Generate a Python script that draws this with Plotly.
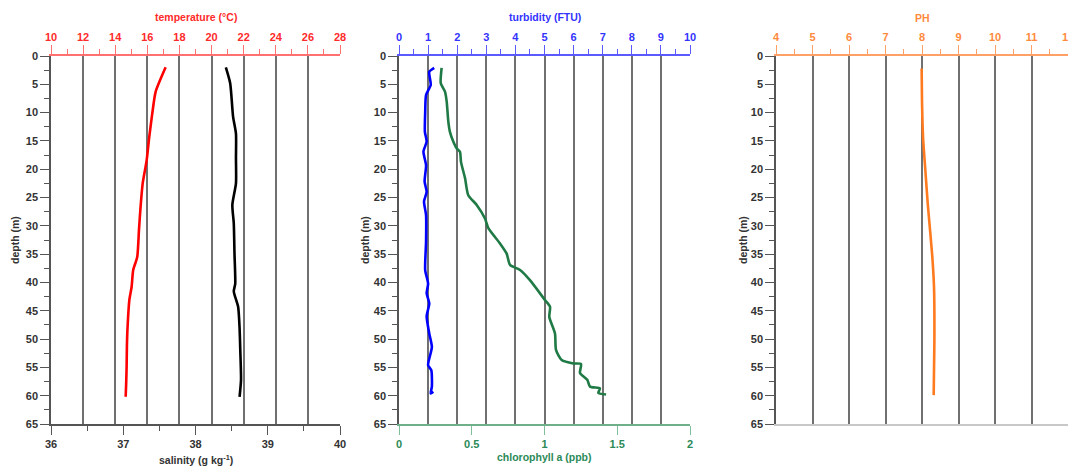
import plotly.graph_objects as go

# ---- profile data ----
temp_depth = [2, 6.3, 10.1, 14.3, 18.4, 22.5, 26.6, 30.7, 35.5, 37.8, 40.8, 43.1, 47.8, 51, 54.9, 58, 60.2]
temperature = [17.14, 16.52, 16.31, 16.12, 15.96, 15.71, 15.58, 15.48, 15.37, 15.12, 15.02, 14.88, 14.77, 14.73, 14.71, 14.68, 14.65]

sal_depth = [2, 4.8, 10.7, 13.7, 18, 22.5, 26.3, 29.6, 35, 40.2, 41.6, 44.3, 48, 52, 57.2, 60.2]
salinity = [38.42, 38.48, 38.52, 38.56, 38.56, 38.56, 38.51, 38.53, 38.54, 38.55, 38.53, 38.59, 38.61, 38.62, 38.63, 38.61]

turb_depth = [2.1, 2.8, 5.1, 6.9, 10, 13.4, 15.1, 16.9, 19.3, 22.2, 24, 25.7, 28.1, 32.8, 37.8, 40.2, 41.9,
              43.7, 46, 49, 51.4, 54.6, 55.5, 58.4, 59.6, 59.3]
turbidity = [1.21, 1.04, 1.09, 0.93, 0.9, 0.89, 0.95, 0.84, 0.93, 0.88, 0.95, 0.86, 0.93, 0.93, 0.9, 1.0, 0.95,
             1.04, 0.95, 1.04, 1.13, 1.0, 1.11, 1.13, 1.09, 1.18]

chl_depth = [2.1, 4.8, 6.3, 8.1, 11.6, 13.4, 15.1, 16.3, 16.9, 18.7, 21.6, 24.6, 26.3, 28.7, 30.4, 33.1, 34.9,
             36.9, 37.8, 39.6, 43.1, 44.3, 46.1, 49, 51.9, 53.7, 54.3, 54.4, 56, 57.2, 58.4, 58.7, 59.5, 59.8]
chlorophyll = [0.293, 0.287, 0.316, 0.328, 0.339, 0.35, 0.373, 0.396, 0.419, 0.426, 0.454, 0.476, 0.534, 0.591,
               0.614, 0.694, 0.74, 0.763, 0.832, 0.9, 1.003, 1.038, 1.033, 1.072, 1.079, 1.118, 1.198, 1.251,
               1.244, 1.294, 1.313, 1.381, 1.37, 1.423]

ph_depth = [2.2, 8, 14.5, 20, 26.3, 35.2, 41, 49.9, 55, 59.9]
ph = [7.99, 8.0, 8.03, 8.09, 8.16, 8.28, 8.33, 8.34, 8.33, 8.32]

W, H = 1068, 466
FONT = "Liberation Sans, Arial, sans-serif"
TXT = "#333333"
GRID = "#707070"
AX = "#555555"

RED, RED_L = "#ff2a2a", "#ff7070"
BLUE, BLUE_L = "#3333ff", "#5a5aff"
GREEN = "#2b8a57"
ORANGE, ORANGE_L = "#ff8a3d", "#ffa066"


def px_x(p):
    return p / W


def px_y(p):
    return 1 - p / H


y_dom = [px_y(424), px_y(56)]
panels = [[px_x(51), px_x(340)], [px_x(399), px_x(690)], [px_x(776), 1.0]]

fig = go.Figure()

line_w = 2.6
spl = dict(shape="spline", smoothing=0.6, width=line_w)
fig.add_trace(go.Scatter(x=salinity, y=sal_depth, xaxis="x", yaxis="y", mode="lines",
                         line=dict(color="#000000", **spl)))
fig.add_trace(go.Scatter(x=temperature, y=temp_depth, xaxis="x2", yaxis="y", mode="lines",
                         line=dict(color="#ff0000", **spl)))
fig.add_trace(go.Scatter(x=chlorophyll, y=chl_depth, xaxis="x3", yaxis="y2", mode="lines",
                         line=dict(color="#1f7a45", **spl)))
fig.add_trace(go.Scatter(x=turbidity, y=turb_depth, xaxis="x4", yaxis="y2", mode="lines",
                         line=dict(color="#0000ff", **spl)))
# empty trace so the third panel's base subplot exists
fig.add_trace(go.Scatter(x=[None], y=[None], xaxis="x5", yaxis="y3", mode="lines", hoverinfo="skip"))
fig.add_trace(go.Scatter(x=ph, y=ph_depth, xaxis="x6", yaxis="y3", mode="lines",
                         line=dict(color="#ff7a1f", **spl)))

tickfont = dict(family=FONT, size=11, color=TXT, weight="bold")


def depth_axis(anchor):
    return dict(domain=y_dom, anchor=anchor, range=[65, 0], autorange=False, automargin=False,
                tickmode="linear", tick0=0, dtick=5, ticks="outside", ticklen=9, tickwidth=1.3, tickcolor=AX,
                minor=dict(dtick=2.5, tick0=0, ticks="outside", ticklen=5, tickwidth=1.3, tickcolor=AX, showgrid=False),
                showline=True, linecolor=AX, linewidth=1.5, showgrid=False, zeroline=False,
                tickfont=tickfont)


def top_axis(overlay, anchor, dom, rng, dtick, mdtick, col, lcol):
    return dict(overlaying=overlay, anchor=anchor, domain=dom, side="top", range=rng, autorange=False,
                automargin=False, ticklabeloverflow="allow",
                tickmode="linear", tick0=rng[0], dtick=dtick, ticks="outside", ticklen=9, tickwidth=1.3,
                tickcolor=lcol,
                minor=dict(dtick=mdtick, tick0=rng[0], ticks="outside", ticklen=5, tickwidth=1.3, tickcolor=lcol,
                           showgrid=False),
                showline=True, linecolor=lcol, linewidth=1.5,
                showgrid=True, gridcolor=GRID, gridwidth=1.5, zeroline=False,
                tickfont=dict(family=FONT, size=11, color=col, weight="bold"))


fig.update_layout(
    width=W, height=H, margin=dict(l=0, r=0, t=0, b=0, autoexpand=False),
    paper_bgcolor="white", plot_bgcolor="white", showlegend=False,
    font=dict(family=FONT, color=TXT),
    # panel 1: salinity (bottom) / temperature (top)
    xaxis=dict(domain=panels[0], anchor="y", range=[36, 40], autorange=False, automargin=False,
               tickmode="linear", tick0=36, dtick=1,
               ticks="outside", ticklen=9, tickwidth=1.3, tickcolor=AX,
               minor=dict(dtick=0.5, tick0=36, ticks="outside", ticklen=5, tickwidth=1.3, tickcolor=AX,
                          showgrid=False),
               showline=True, linecolor=AX, linewidth=1.5, showgrid=False, zeroline=False, tickfont=tickfont),
    xaxis2=top_axis("x", "y", panels[0], [10, 28], 2, 1, RED, RED_L),
    yaxis=depth_axis("x"),
    # panel 2: chlorophyll (bottom) / turbidity (top)
    xaxis3=dict(domain=panels[1], anchor="y2", range=[0, 2], autorange=False, automargin=False,
                tickmode="linear", tick0=0,
                dtick=0.5, ticks="outside", ticklen=9, tickwidth=1.3, tickcolor="#7fbf9a",
                showline=True, linecolor="#6fb08b", linewidth=1.5, showgrid=False, zeroline=False,
                tickfont=dict(family=FONT, size=11, color=GREEN, weight="bold")),
    xaxis4=top_axis("x3", "y2", panels[1], [0, 10], 1, 0.5, BLUE, BLUE_L),
    yaxis2=depth_axis("x3"),
    # panel 3: pH (top only)
    xaxis5=dict(domain=panels[2], anchor="y3", range=[4, 12], autorange=False, automargin=False,
                showticklabels=False, ticks="", showline=True, linecolor="#c8c8c8", linewidth=1.5,
                showgrid=False, zeroline=False),
    xaxis6=top_axis("x5", "y3", panels[2], [4, 12], 1, 0.5, ORANGE, ORANGE_L),
    yaxis3=depth_axis("x5"),
)

titles = [
    ("temperature (°C)", 195.5, 17, RED, 0),
    ("turbidity (FTU)", 544.5, 17, BLUE, 0),
    ("PH", 922, 18, ORANGE, 0),
    ("salinity (g kg<sup>-1</sup>)", 195.5, 459, TXT, 0),
    ("chlorophyll a (ppb)", 544.5, 457, GREEN, 0),
    ("depth (m)", 15, 240, TXT, -90),
    ("depth (m)", 365, 240, TXT, -90),
    ("depth (m)", 743, 240, TXT, -90),
]
for text, x, y, col, ang in titles:
    fig.add_annotation(text=text, x=px_x(x), y=px_y(y), xref="paper", yref="paper",
                       showarrow=False, textangle=ang, xanchor="center", yanchor="middle",
                       font=dict(family=FONT, size=10.5, color=col, weight="bold"))

fig.write_html("out.html")
